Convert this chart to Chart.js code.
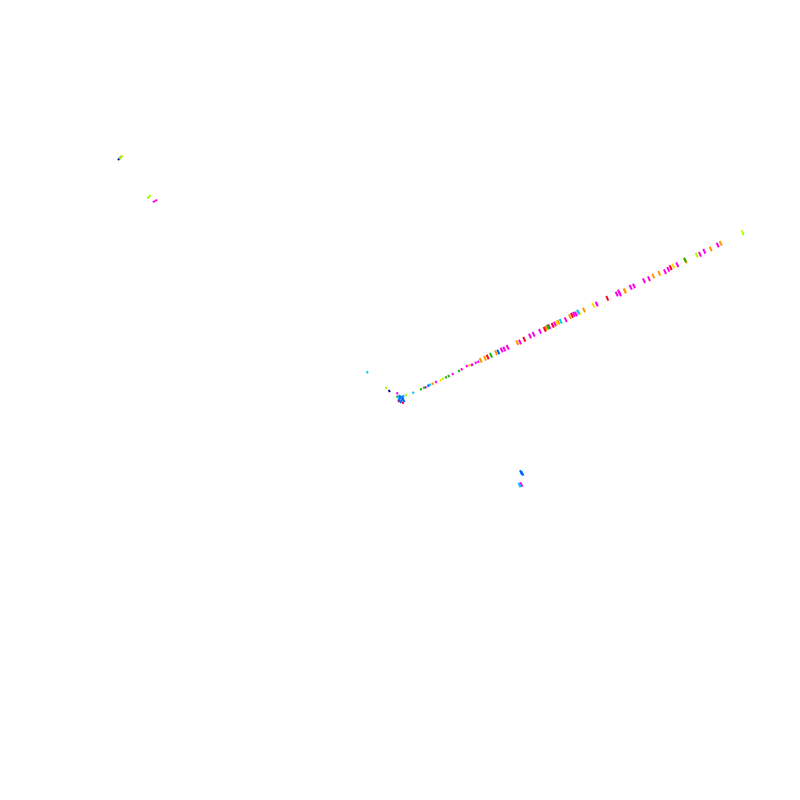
<!DOCTYPE html>
<html>
<head>
<meta charset="utf-8">
<script src="https://cdn.jsdelivr.net/npm/chart.js@4/dist/chart.umd.min.js"></script>
<style>
  html, body { margin: 0; padding: 0; background: #fff; }
  #wrap { width: 800px; height: 800px; }
</style>
</head>
<body>
<div id="wrap"><canvas id="scatter"></canvas></div>
<script>
// points, [x, y] with y counted upward
const magentaPts = [[436,418],[425.7,412.7],[452.7,426],[461.7,430.7],[466.7,434],[472.3,435.3],[475.7,437.3],[478.3,438.3],[471.7,435],[501.7,450],[504.3,451],[507.7,452.7],[520,458],[530,464],[533.7,465.7],[540,468.7],[549.3,473.3],[555,476],[565.7,480.3],[574,485.7],[576,486],[596.7,496],[616.7,506],[619,508],[620,506],[630.7,512.7],[634,514],[644,519.3],[649,521.3],[665,528.3],[668.3,530.7],[677.3,535.3],[700,545.7],[704.3,548.7],[717.7,555],[521.3,315.5],[397.3,406.7]];
const orangePts = [[432.7,416.3],[480.7,439.7],[485,441.7],[496,447.3],[517.3,457.3],[546.3,472],[558.3,477.7],[570,483.3],[584,490],[625,509],[624.7,509.3],[653.3,524],[659.3,526.7],[685.7,539],[710.7,551],[720.7,556.7]];
const yellowPts = [[440.7,419.7],[469.3,434.7],[557,477],[579.3,487.3],[593.3,494.7],[673.3,534]];
const limePts = [[386,412],[443,421.3],[696.7,545],[742.7,567.3],[406,405]];
const greenPts = [[421,410.7],[446,422.7],[448.7,424],[459,429],[491,444.7],[548,473],[424,412.3],[685,540],[397.3,403.3],[402.7,401.3]];
const redPts = [[487.7,443],[524.3,460.7],[544.7,470.7],[552.7,474.7],[572,484.7],[607.3,501.7],[670.7,532.3],[398.7,399],[403,397.3]];
const bluePts = [[428.3,414.3],[498.3,448],[522.3,326.7],[521,327.5],[399.7,404],[400,402],[399,400],[401.5,399.5],[403,401],[400.5,398],[404,399],[402,403]];
const cyanPts = [[367.3,427.7],[413.3,407.3],[430,415.3],[560.7,478.7],[578,488],[519.5,315],[398.5,402.5],[403.5,404]];
const navyPts = [[389.3,409]];
// the three marks near the top left lean the other way
const upperLime = [[121,642.7],[149,603.3]];
const upperMagenta = [[155,599]];
const upperNavy = [[119.8,641.8]];

const palette = {
  magenta: '#ff00e6',
  orange: '#ff9900',
  yellow: '#ffdd00',
  lime: '#aaff00',
  green: '#22b000',
  red: '#ff0022',
  blue: '#0066ff',
  cyan: '#00c8ff',
  navy: '#000099'
};

// marks are small dots near the cluster and longer dashes further out
function markSize(ctx) {
  const p = ctx.raw;
  if (!p) return 2.5;
  if (p.x > 360 && p.x < 480 && p.y > 395) return 1.2;
  return 2.5;
}

function makeSet(name, pts, rot) {
  return {
    label: name,
    data: pts.map(p => ({ x: p[0], y: p[1] })),
    backgroundColor: palette[name],
    borderColor: palette[name],
    pointStyle: 'line',
    pointRadius: markSize,
    pointRotation: rot,
    borderWidth: 2
  };
}

// first dataset ends up on top
new Chart(document.getElementById('scatter'), {
  type: 'scatter',
  data: {
    datasets: [
      makeSet('blue', bluePts, 65),
      makeSet('cyan', cyanPts, 65),
      makeSet('navy', navyPts, 65),
      makeSet('green', greenPts, 65),
      makeSet('lime', limePts, 65),
      makeSet('red', redPts, 65),
      makeSet('yellow', yellowPts, 65),
      makeSet('orange', orangePts, 65),
      makeSet('magenta', magentaPts, 65),
      makeSet('lime', upperLime, -45),
      makeSet('navy', upperNavy, -45),
      makeSet('magenta', upperMagenta, -30)
    ]
  },
  options: {
    responsive: true,
    maintainAspectRatio: false,
    animation: false,
    layout: { padding: 0, autoPadding: false },
    plugins: { legend: { display: false }, tooltip: { enabled: false } },
    scales: {
      x: { display: false, min: 0, max: 800 },
      y: { display: false, min: 0, max: 800 }
    }
  }
});
</script>
</body>
</html>
